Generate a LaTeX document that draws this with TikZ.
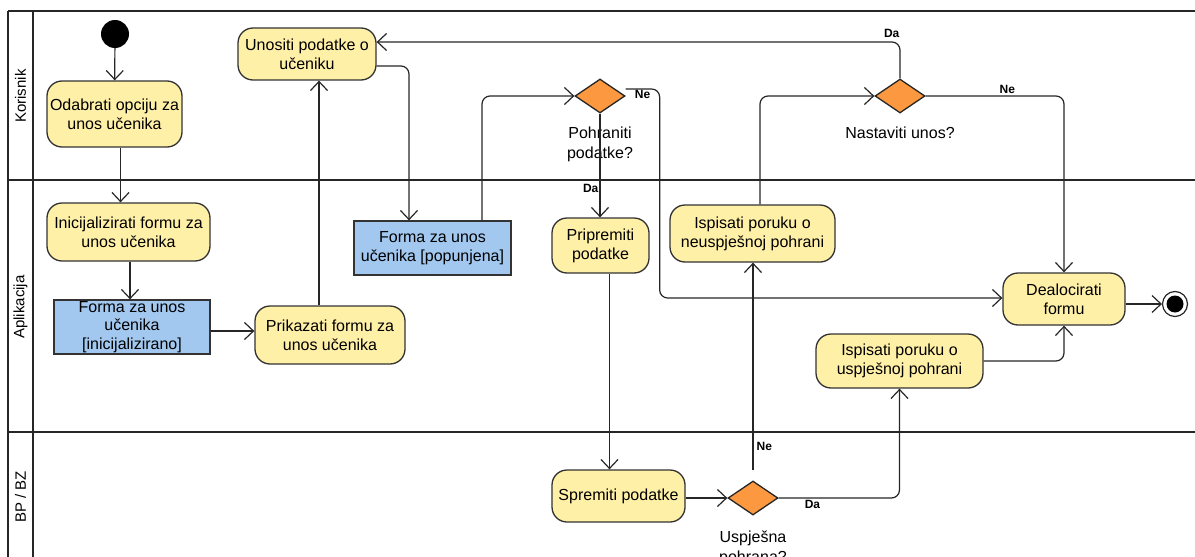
\documentclass[tikz,border=0pt]{standalone}
\usepackage{fontspec}
\setmainfont{Liberation Sans}
\usetikzlibrary{arrows.meta, shapes.geometric, positioning}
\definecolor{actfill}{RGB}{255,240,168}
\definecolor{objfill}{RGB}{162,200,240}
\definecolor{decfill}{RGB}{252,152,64}
\tikzset{action/.style={draw=black!80, line width=1.3pt, fill=actfill, rounded corners=15pt, align=center, inner sep=0pt, font=\fontsize{16}{19}\selectfont}}
\tikzset{object/.style={draw=black!80, line width=1.3pt, fill=objfill, align=center, inner sep=0pt, font=\fontsize{16}{18.5}\selectfont}}
\tikzset{decision/.style={diamond, draw=black!85, line width=1.3pt, fill=decfill, minimum width=50pt, minimum height=34pt, inner sep=0pt}}
\tikzset{declabel/.style={align=center, inner sep=0pt, font=\fontsize{16}{20}\selectfont}}
\tikzset{guard/.style={inner sep=1pt, font=\bfseries\fontsize{12}{14}\selectfont}}
\tikzset{flow/.style={draw=black!85, line width=1.2pt, rounded corners=8pt, -{Straight Barb[length=9pt, width=17pt]}}}
\tikzset{lane/.style={draw=black!85, line width=2.4pt}}
\tikzset{lanelabel/.style={rotate=90, inner sep=0pt, font=\fontsize{15}{18}\selectfont}}

\begin{document}
\begin{tikzpicture}[x=1pt, y=-1pt]
\useasboundingbox (0,0) rectangle (1195,557);
\draw[line width=1.5pt, black!85] (8,11) -- (8,557);
\draw[lane] (33,11) -- (33,557);
\draw[lane] (8,11) -- (1195,11);
\draw[lane] (8,180) -- (1195,180);
\draw[lane] (8,432) -- (1195,432);
\node[lanelabel] (korisnik) at (20.5,96) {Korisnik};
\node[lanelabel] (aplikacija) at (20.5,307) {Aplikacija};
\node[lanelabel] (bpbz) at (20.5,497) {BP / BZ};

\node[circle, fill=black, minimum size=28pt, inner sep=0pt] (start) at (115,34) {};
\node[action, minimum width=135pt, minimum height=66pt] (odabrati) at (114.5,114) {Odabrati opciju za\\unos učenika};
\node[action, minimum width=163pt, minimum height=58pt] (inicijal) at (128.5,232) {Inicijalizirati formu za\\unos učenika};
\node[object, minimum width=156pt, minimum height=54pt] (formaInit) at (132,327) {Forma za unos\\učenika\\{[inicijalizirano]}};
\node[action, minimum width=150pt, minimum height=58pt] (prikazati) at (330,335) {Prikazati formu za\\unos učenika};
\node[action, minimum width=138pt, minimum height=52pt] (unositi) at (307,54) {Unositi podatke o\\učeniku};
\node[object, minimum width=157pt, minimum height=54pt] (formaPop) at (432.5,248) {Forma za unos\\učenika [popunjena]};
\node[decision] (pohraniti) at (600,96) {};
\node[declabel, below=13pt of pohraniti] (pohranitiTxt) {Pohraniti\\podatke?};
\node[action, minimum width=97pt, minimum height=55pt] (pripremiti) at (600.5,245.5) {Pripremiti\\podatke};
\node[action, minimum width=133pt, minimum height=52pt] (spremiti) at (618.5,496) {Spremiti podatke};
\node[decision] (uspjesna) at (753,498) {};
\node[declabel, below=15pt of uspjesna] (uspjesnaTxt) {Uspješna\\pohrana?};
\node[action, minimum width=165pt, minimum height=57pt] (neuspjeh) at (752.5,233.5) {Ispisati poruku o\\neuspješnoj pohrani};
\node[decision] (nastaviti) at (900,96) {};
\node[declabel, below=13pt of nastaviti] (nastavitiTxt) {Nastaviti unos?};
\node[action, minimum width=167pt, minimum height=54pt] (uspjeh) at (899.5,361) {Ispisati poruku o\\uspješnoj pohrani};
\node[action, minimum width=122pt, minimum height=52pt] (dealocirati) at (1064,299) {Dealocirati\\formu};
\node[circle, draw=black!85, line width=1.2pt, fill=white, minimum size=25pt, inner sep=0pt,
      path picture={\fill[black] (path picture bounding box.center) circle (8.5pt);}] (kraj) at (1175,304) {};

\draw[flow] (start) -- (odabrati);
\draw[flow] ([xshift=6pt]odabrati.south) -- ([xshift=6pt]odabrati.south |- inicijal.north);
\draw[flow] ([xshift=1.5pt]inicijal.south) -- ([xshift=1.5pt]inicijal.south |- formaInit.north);
\draw[flow] ([yshift=-4pt]formaInit.east) -- ([yshift=-4pt]formaInit.east -| prikazati.west);
\draw[flow] ([xshift=-11pt]prikazati.north) -- ([xshift=-11pt]prikazati.north |- unositi.south);
\draw[flow] ([yshift=-12pt]unositi.east) -| ([xshift=-23.5pt]formaPop.north);
\draw[flow] ([xshift=49.5pt]formaPop.north) |- (pohraniti.west);
\draw[flow] (pohraniti.south) -- (pohraniti.south |- pripremiti.north) node[guard, pos=0.72, left=0pt] {Da};
\draw[flow] ([yshift=7pt]pohraniti.east) -- ++(34,0) node[guard, midway, below=0pt] {Ne} |- ([yshift=1pt]dealocirati.west);
\draw[flow] (dealocirati.east |- kraj) -- (kraj.west);
\draw[flow] ([xshift=9pt]pripremiti.south) -- ([xshift=9pt]pripremiti.south |- spremiti.north);
\draw[flow] (spremiti.east |- uspjesna) -- (uspjesna.west);
\draw[flow] ([yshift=10pt]uspjesna.north) -- (uspjesna.north |- neuspjeh.south) node[guard, pos=0.115, right=2pt] {Ne};
\draw[flow] ([xshift=7.5pt]neuspjeh.north) |- (nastaviti.west);
\draw[flow] (nastaviti.north) |- ([yshift=12pt]unositi.east) node[guard, pos=0.5, anchor=south east, xshift=1pt, yshift=3pt] {Da};
\draw[flow] (nastaviti.east) -| (dealocirati.north) node[guard, pos=0.295, above=1pt] {Ne};
\draw[flow] (uspjesna.east) -| (uspjeh.south) node[guard, pos=0.14, below=1pt] {Da};
\draw[flow] (uspjeh.east) -| (dealocirati.south);
\end{tikzpicture}
\end{document}
